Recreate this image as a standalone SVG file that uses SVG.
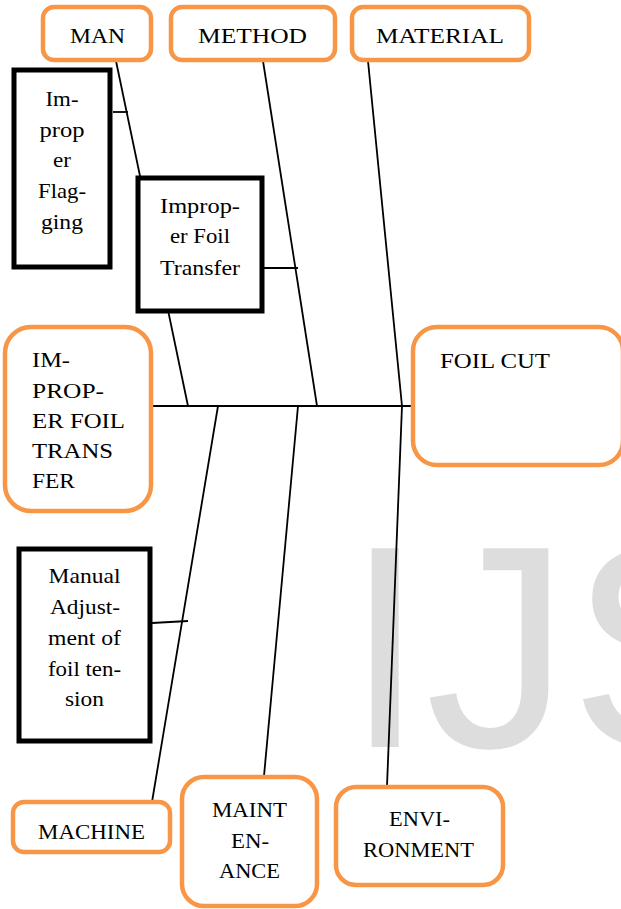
<svg xmlns="http://www.w3.org/2000/svg" width="621" height="909" viewBox="0 0 621 909">
  <style>
    .cat { fill: #ffffff; stroke: #f79646; stroke-width: 4.5; }
    .cause { fill: #ffffff; stroke: #000000; stroke-width: 5; }
    .bone { stroke: #000000; stroke-width: 1.8; fill: none; stroke-linecap: butt; }
    .lbl { font-family: "Liberation Serif", "Times New Roman", serif; font-size: 22px; fill: #000000; }
    .mid { text-anchor: middle; }
    .mark { font-family: "Liberation Sans", Arial, sans-serif; font-size: 289px; fill: #dddddd; }
  </style>

  <rect width="621" height="909" fill="#ffffff"/>

  <!-- background watermark -->
  <text class="mark" x="345" y="747">IJS</text>

  <!-- fishbone connectors -->
  <g id="connectors">
    <line class="bone" x1="152" y1="406" x2="413" y2="406"/>
    <line class="bone" x1="116" y1="61" x2="188" y2="406"/>
    <line class="bone" x1="263" y1="61" x2="317" y2="406"/>
    <line class="bone" x1="368" y1="61" x2="402" y2="406"/>
    <line class="bone" x1="218" y1="406" x2="152" y2="802"/>
    <line class="bone" x1="298" y1="406" x2="264" y2="776"/>
    <line class="bone" x1="402" y1="406" x2="387" y2="786"/>
    <line class="bone" x1="113" y1="112" x2="128" y2="112"/>
    <line class="bone" x1="263" y1="268" x2="298" y2="268"/>
    <line class="bone" x1="152" y1="623" x2="188" y2="621"/>
  </g>

  <!-- category boxes -->
  <g id="man">
    <rect class="cat" x="43" y="7" width="108" height="53" rx="11"/>
    <text class="lbl mid" x="97.5" y="43" textLength="55" lengthAdjust="spacingAndGlyphs">MAN</text>
  </g>
  <g id="method">
    <rect class="cat" x="171" y="7" width="164" height="53" rx="11"/>
    <text class="lbl mid" x="252.5" y="43" textLength="109" lengthAdjust="spacingAndGlyphs">METHOD</text>
  </g>
  <g id="material">
    <rect class="cat" x="352" y="7" width="177" height="53" rx="11"/>
    <text class="lbl mid" x="440" y="43" textLength="128" lengthAdjust="spacingAndGlyphs">MATERIAL</text>
  </g>

  <!-- cause boxes -->
  <g id="improper-flagging">
    <rect class="cause" x="14" y="70" width="96" height="197"/>
    <text class="lbl mid" x="62" y="106" textLength="33" lengthAdjust="spacingAndGlyphs">Im-</text>
    <text class="lbl mid" x="62" y="137" textLength="45" lengthAdjust="spacingAndGlyphs">prop</text>
    <text class="lbl mid" x="62" y="167" textLength="18" lengthAdjust="spacingAndGlyphs">er</text>
    <text class="lbl mid" x="62" y="198" textLength="48" lengthAdjust="spacingAndGlyphs">Flag-</text>
    <text class="lbl mid" x="62" y="229" textLength="42" lengthAdjust="spacingAndGlyphs">ging</text>
  </g>
  <g id="improper-foil-transfer">
    <rect class="cause" x="138" y="178" width="124" height="133"/>
    <text class="lbl mid" x="200" y="213" textLength="80" lengthAdjust="spacingAndGlyphs">Improp-</text>
    <text class="lbl mid" x="200" y="243" textLength="60" lengthAdjust="spacingAndGlyphs">er Foil</text>
    <text class="lbl mid" x="200" y="275" textLength="80" lengthAdjust="spacingAndGlyphs">Transfer</text>
  </g>

  <!-- problem source and effect -->
  <g id="improper-foil-transfer-source">
    <rect class="cat" x="5" y="327" width="146" height="184" rx="26"/>
    <text class="lbl" x="32" y="367" textLength="38" lengthAdjust="spacingAndGlyphs">IM-</text>
    <text class="lbl" x="32" y="398" textLength="72" lengthAdjust="spacingAndGlyphs">PROP-</text>
    <text class="lbl" x="32" y="428" textLength="93" lengthAdjust="spacingAndGlyphs">ER FOIL</text>
    <text class="lbl" x="32" y="458" textLength="81" lengthAdjust="spacingAndGlyphs">TRANS</text>
    <text class="lbl" x="32" y="488" textLength="43" lengthAdjust="spacingAndGlyphs">FER</text>
  </g>
  <g id="foil-cut">
    <rect class="cat" x="413" y="327" width="210" height="138" rx="24"/>
    <text class="lbl" x="440" y="368" textLength="110" lengthAdjust="spacingAndGlyphs">FOIL CUT</text>
  </g>

  <g id="manual-adjustment">
    <rect class="cause" x="19" y="549" width="131" height="192"/>
    <text class="lbl mid" x="84.5" y="583" textLength="72" lengthAdjust="spacingAndGlyphs">Manual</text>
    <text class="lbl mid" x="85" y="614" textLength="70" lengthAdjust="spacingAndGlyphs">Adjust-</text>
    <text class="lbl mid" x="84.5" y="645" textLength="73" lengthAdjust="spacingAndGlyphs">ment of</text>
    <text class="lbl mid" x="84.5" y="676" textLength="73" lengthAdjust="spacingAndGlyphs">foil ten-</text>
    <text class="lbl mid" x="84.5" y="706" textLength="39" lengthAdjust="spacingAndGlyphs">sion</text>
  </g>

  <g id="machine">
    <rect class="cat" x="13" y="802" width="157" height="50" rx="11"/>
    <text class="lbl mid" x="91.5" y="839" textLength="107" lengthAdjust="spacingAndGlyphs">MACHINE</text>
  </g>
  <g id="maintenance">
    <rect class="cat" x="182" y="777" width="135" height="129" rx="22"/>
    <text class="lbl mid" x="249.5" y="817" textLength="75" lengthAdjust="spacingAndGlyphs">MAINT</text>
    <text class="lbl mid" x="250" y="848" textLength="38" lengthAdjust="spacingAndGlyphs">EN-</text>
    <text class="lbl mid" x="249.5" y="878" textLength="61" lengthAdjust="spacingAndGlyphs">ANCE</text>
  </g>
  <g id="environment">
    <rect class="cat" x="336" y="787" width="167" height="98" rx="20"/>
    <text class="lbl mid" x="419.5" y="826" textLength="61" lengthAdjust="spacingAndGlyphs">ENVI-</text>
    <text class="lbl mid" x="418.5" y="857" textLength="111" lengthAdjust="spacingAndGlyphs">RONMENT</text>
  </g>
</svg>
